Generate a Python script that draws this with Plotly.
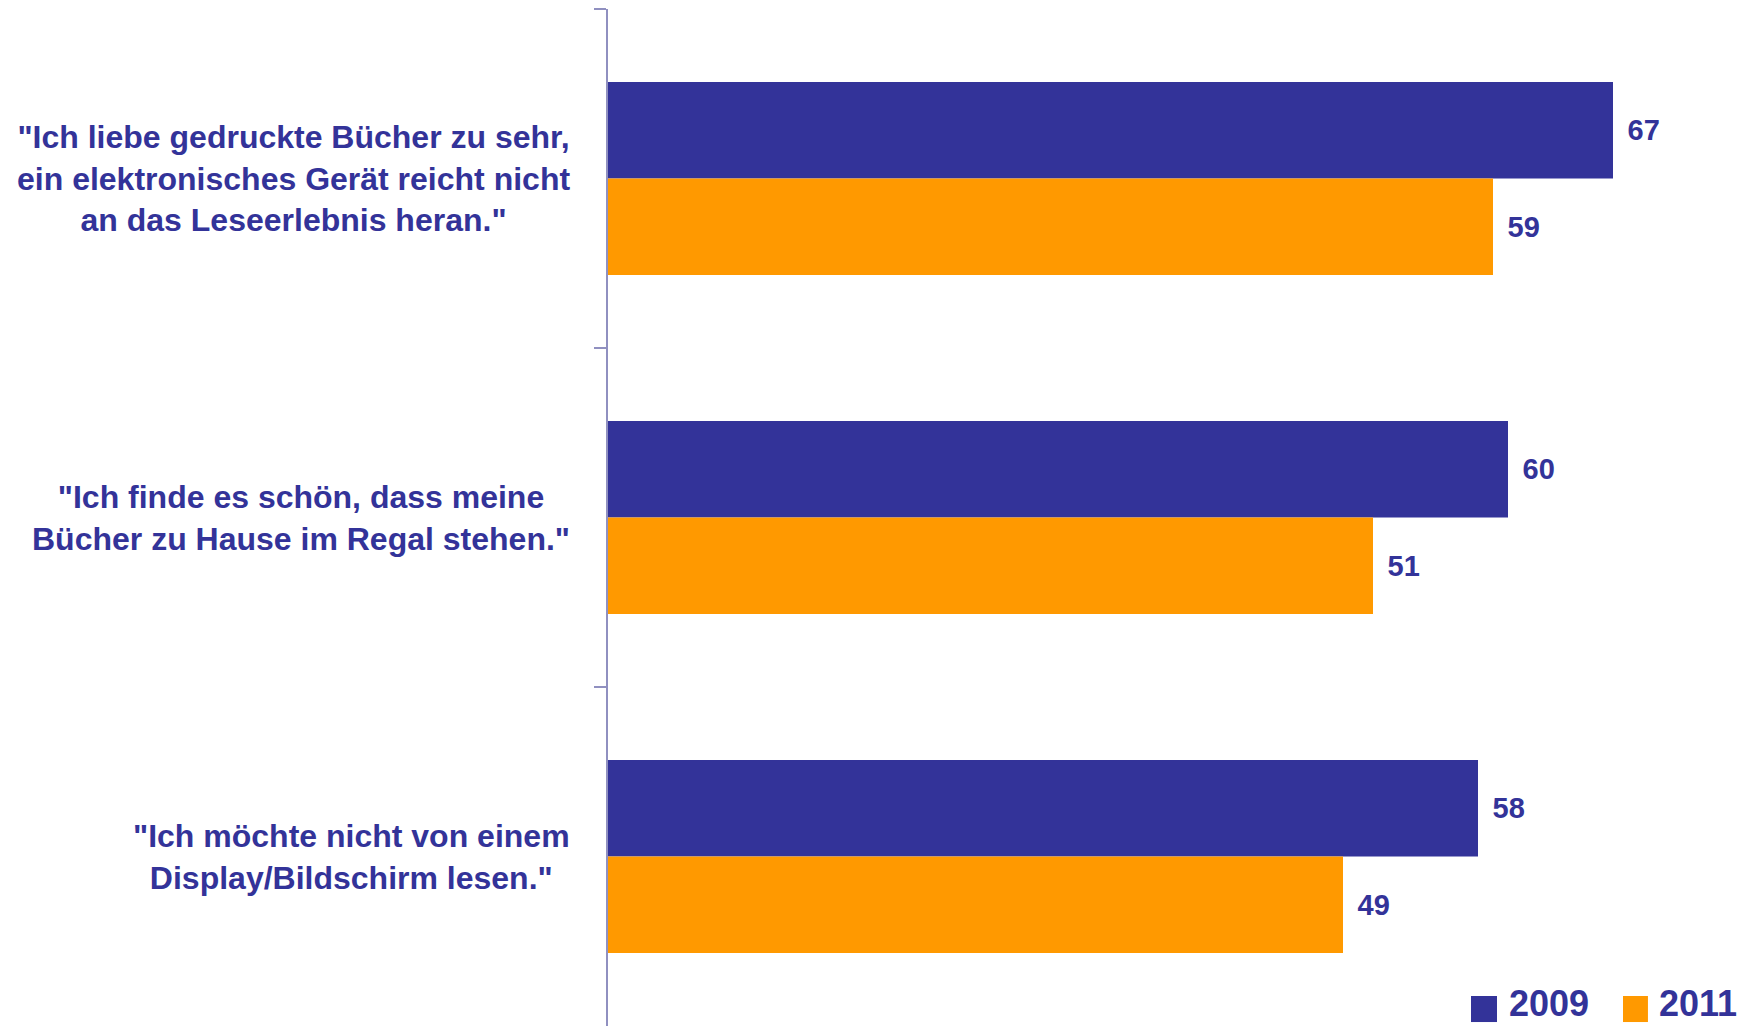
import plotly.graph_objects as go

categories = [
    "\"Ich liebe gedruckte Bücher zu sehr,<br>ein elektronisches Gerät reicht nicht<br>an das Leseerlebnis heran.\"",
    "\"Ich finde es schön, dass meine<br>Bücher zu Hause im Regal stehen.\"",
    "\"Ich möchte nicht von einem<br>Display/Bildschirm lesen.\"",
]
series_names = ["2009", "2011"]
values_2009 = [67, 60, 58]
values_2011 = [59, 51, 49]

BLUE = "#333399"
ORANGE = "#FF9900"
AXIS = "#9090C0"
FONT = "Liberation Sans, Arial, sans-serif"

fig = go.Figure()
for name, vals, col in [(series_names[0], values_2009, BLUE), (series_names[1], values_2011, ORANGE)]:
    fig.add_trace(go.Bar(
        name=name, x=vals, y=categories, orientation="h",
        marker=dict(color=col, line=dict(width=0)),
        text=vals, texttemplate="\u2009\u2009%{x}", textposition="outside",
        constraintext="none", cliponaxis=False,
        textfont=dict(family=FONT, size=29, color=BLUE, weight="bold"),
        showlegend=False,
    ))

for c in categories:
    fig.add_annotation(
        x=0, xref="paper", y=c, yref="y", text=c, showarrow=False,
        xanchor="right", yanchor="middle", align="center", xshift=-36,
        font=dict(family=FONT, size=32, color=BLUE, weight="bold"),
    )

# legend drawn as swatches + labels in the lower right corner
legend_items = [
    (series_names[0], BLUE, 0.7671, 0.7902, 0.7991),
    (series_names[1], ORANGE, 0.9022, 0.9244, 0.9324),
]
for name, col, x0, x1, xt in legend_items:
    fig.add_shape(type="rect", xref="paper", yref="paper",
                  x0=x0, x1=x1, y0=0.0039, y1=0.0295,
                  fillcolor=col, line=dict(width=0), layer="above")
    fig.add_annotation(
        x=xt, xref="paper", y=0.0226, yref="paper", text=name, showarrow=False,
        xanchor="left", yanchor="middle",
        font=dict(family=FONT, size=36, color=BLUE, weight="bold"),
    )

fig.update_layout(
    width=1743, height=1018,
    margin=dict(l=600, r=18, t=1, b=0),
    paper_bgcolor="white", plot_bgcolor="white",
    barmode="group", bargap=0.43, bargroupgap=0,
    xaxis=dict(visible=False, range=[0, 75]),
    yaxis=dict(
        autorange="reversed", showline=True, linecolor=AXIS, linewidth=2,
        ticks="outside", ticklen=12, tickwidth=2, tickcolor=AXIS,
        tickson="boundaries", showticklabels=False, showgrid=False, zeroline=False,
    ),
)

fig.write_html("out.html")
